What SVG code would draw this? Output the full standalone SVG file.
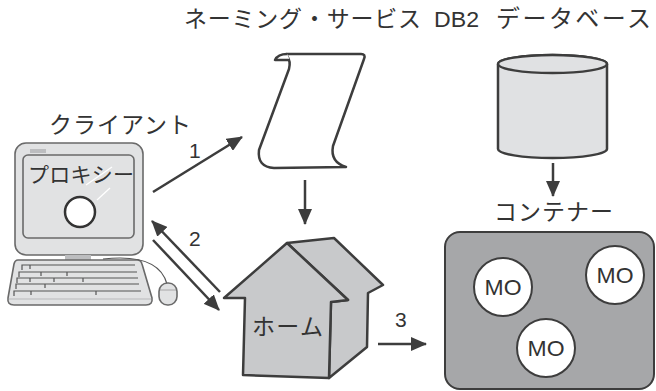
<svg xmlns="http://www.w3.org/2000/svg" width="656" height="391" viewBox="0 0 656 391">
  <style>
    .lbl { font-family: "Noto Sans CJK JP", "Liberation Sans", sans-serif; fill: #333; }
    .lat { font-family: "Liberation Sans", Arial, sans-serif; fill: #333; }
    .num { font-family: "Liberation Sans", Arial, sans-serif; fill: #333; font-size: 21px; }
    .mo { font-family: "Liberation Sans", Arial, sans-serif; fill: #333; font-size: 22px; text-anchor: middle; }
    .conn { stroke: #3d3d3d; stroke-width: 2.5; fill: none; }
    .dark { stroke: #3d3d3d; stroke-width: 2.5; stroke-linejoin: round; }
    .pc { stroke: #6a6a6a; stroke-width: 1.6; fill: #e1e2e3; }
    .key { stroke: #555; stroke-width: 1.2; fill: none; }
  </style>
  <defs>
    <marker id="head" markerUnits="userSpaceOnUse" markerWidth="16" markerHeight="14" refX="15" refY="7" orient="auto">
      <path d="M0,0 L16,7 L0,14 Z" fill="#3d3d3d"/>
    </marker>
  </defs>

  <rect width="656" height="391" fill="#fff"/>

  <!-- client workstation -->
  <g id="client">
    <text class="lbl" x="49" y="133" font-size="23" textLength="142" lengthAdjust="spacing">クライアント</text>
    <rect class="pc" x="15" y="143" width="128" height="112" rx="11"/>
    <rect class="pc" x="23" y="155" width="111" height="83" rx="5"/>
    <rect x="30" y="149" width="16" height="4" fill="#bcbdbf"/>
    <rect x="65" y="255" width="26" height="5" fill="#bcbdbf"/>
    <line x1="86" y1="185" x2="112" y2="167" stroke="#fff" stroke-width="1.3"/>
    <line x1="97" y1="200" x2="110" y2="188" stroke="#fff" stroke-width="1.3"/>
    <text class="lbl" x="28" y="182" font-size="21" textLength="106" lengthAdjust="spacing">プロキシー</text>
    <circle cx="80" cy="212" r="15" fill="#fff" stroke="#333" stroke-width="2.5"/>
    <!-- keyboard -->
    <path class="pc" d="M18 260 L137 260 Q141 260 142 264 L152 298 Q153 305 146 305 L14 305 Q7 305 8 298 L14 264 Q15 260 18 260 Z"/>
    <path d="M9 299 L151 299" stroke="#b8b9bb" stroke-width="1"/>
    <path class="key" d="M22 270 V265 H135 M30 265 V269"/>
    <path class="key" d="M19 277 V272 H137 M41 272 V276 M67 272 V276"/>
    <path class="key" d="M17 283 V278 H138 M30 278 V282 M54 278 V282 M83 278 V282"/>
    <path class="key" d="M16 289 V284 H139 M45 284 V288"/>
    <path class="key" d="M14 296 V291 H141 M31 291 V295 M96 291 V295"/>
    <!-- mouse and cable -->
    <path d="M103 259 C130 256 160 258 167 284" stroke="#555" stroke-width="1.2" fill="none"/>
    <rect class="pc" x="159" y="283" width="18" height="22" rx="8.5"/>
    <path d="M160 290 H176" stroke="#999" stroke-width="0.8"/>
  </g>

  <!-- naming service -->
  <g id="naming">
    <text class="lbl" x="184" y="27" font-size="23" textLength="237" lengthAdjust="spacing">ネーミング・サービス</text>
    <path class="dark" fill="#fff" d="M287 54 L361 54 Q366 54 364 59 L333 146 Q330 162 346 167 L274 168 Q257 167 259 150 L289 69 Q291 61 287 56 Z"/>
    <path class="dark" fill="#fff" d="M287 54 Q278 54 275 60 L290 60"/>
  </g>

  <!-- database -->
  <g id="db2">
    <text class="lat" x="434" y="27" font-size="22" textLength="45" lengthAdjust="spacingAndGlyphs">DB2</text>
    <text class="lbl" x="496" y="27" font-size="24" textLength="155" lengthAdjust="spacing">データベース</text>
    <path class="dark" fill="#e0e1e3" d="M498 64 V149 A54.5 9 0 0 0 607 149 V64 A54.5 9 0 0 0 498 64 Z"/>
    <ellipse class="dark" fill="#e0e1e3" cx="552.5" cy="64" rx="54.5" ry="9"/>
  </g>

  <!-- home -->
  <g id="home">
    <path class="dark" fill="#c8c9cb" d="M287 243 L334 238 L383 285 L368 293 L367 347 L329 378 L331 302 L348 300 Z"/>
    <path class="dark" fill="#c8c9cb" d="M287 243 L348 300 L331 302 L329 378 L243 375 L245 298 L224 298 Z"/>
    <text class="lbl" x="252" y="335" font-size="23" textLength="71" lengthAdjust="spacing">ホーム</text>
  </g>

  <!-- container with managed objects -->
  <g id="container">
    <text class="lbl" x="494" y="220" font-size="23" textLength="119" lengthAdjust="spacing">コンテナー</text>
    <rect x="445" y="232" width="209" height="157" rx="15" fill="#a6a7a9" stroke="#3d3d3d" stroke-width="2"/>
    <g id="mo1">
      <circle cx="503" cy="287" r="29" fill="#fff" stroke="#3d3d3d" stroke-width="2"/>
      <text class="mo" x="503" y="295" textLength="37" lengthAdjust="spacingAndGlyphs">MO</text>
    </g>
    <g id="mo2">
      <circle cx="615" cy="275" r="29" fill="#fff" stroke="#3d3d3d" stroke-width="2"/>
      <text class="mo" x="615" y="283" textLength="37" lengthAdjust="spacingAndGlyphs">MO</text>
    </g>
    <g id="mo3">
      <circle cx="546" cy="348" r="29" fill="#fff" stroke="#3d3d3d" stroke-width="2"/>
      <text class="mo" x="546" y="356" textLength="37" lengthAdjust="spacingAndGlyphs">MO</text>
    </g>
  </g>

  <!-- connectors -->
  <g id="connectors">
    <line class="conn" x1="153" y1="192" x2="242" y2="137" marker-end="url(#head)"/>
    <text class="num" x="189" y="158">1</text>
    <line class="conn" x1="220" y1="292" x2="152" y2="221" marker-end="url(#head)"/>
    <line class="conn" x1="153" y1="240" x2="219" y2="310" marker-end="url(#head)"/>
    <text class="num" x="189" y="246">2</text>
    <line class="conn" x1="305" y1="180" x2="305" y2="224" marker-end="url(#head)"/>
    <line class="conn" x1="553" y1="163" x2="553" y2="196" marker-end="url(#head)"/>
    <line class="conn" x1="378" y1="344" x2="426" y2="344" marker-end="url(#head)"/>
    <text class="num" x="395" y="327">3</text>
  </g>
</svg>
